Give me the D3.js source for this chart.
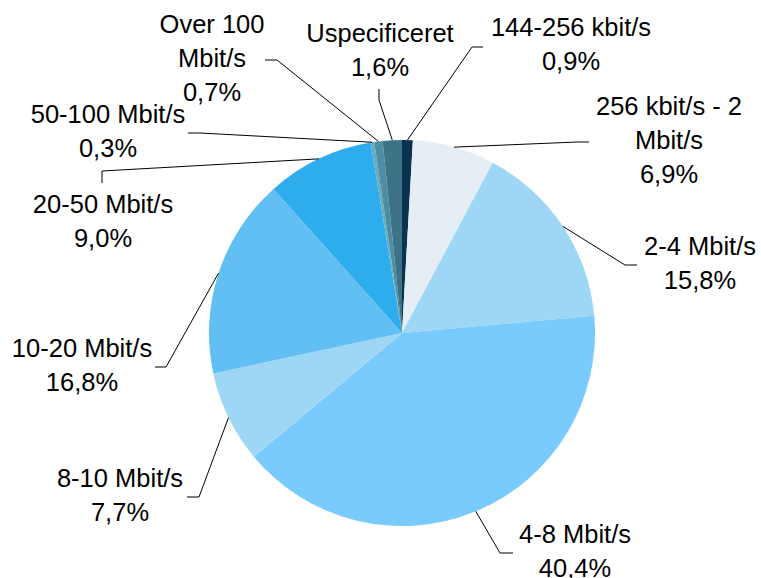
<html>
<head>
  <style>
    body { margin: 0; background: #fff; }
    .lbl { font-family: 'Liberation Sans', Arial, sans-serif; font-size: 25.5px; fill: #000; }
    .leader { fill: none; stroke: #000; stroke-width: 1; }
  </style>
</head>
<body>
  <div id="chart"></div>
  <script src="https://d3js.org/d3.v7.min.js"></script>
  <script>

  // data, clockwise from 12 o'clock
  const categories = ["144-256 kbit/s", "256 kbit/s - 2 Mbit/s", "2-4 Mbit/s", "4-8 Mbit/s", "8-10 Mbit/s",
    "10-20 Mbit/s", "20-50 Mbit/s", "50-100 Mbit/s", "Over 100 Mbit/s", "Uspecificeret"];
  const shares = [0.9, 6.9, 15.8, 40.4, 7.7, 16.8, 9.0, 0.3, 0.7, 1.6];
  const colours = ["#0b3250", "#e4eef4", "#9dd7f5", "#7acbfd", "#9dd7f5",
    "#62bff3", "#2eaded", "#6aaabf", "#4d8ea4", "#3d7386"];

  // label layout (centre x, first baseline, words on first line, leader elbow + end)
  const labelLayout = [
    {x: 571, y: 36,  words: 0, elbow: [472, 47],  end: [483, 47]},
    {x: 669, y: 115, words: 4, elbow: [577, 142], end: [589, 142]},
    {x: 700, y: 255, words: 0, elbow: [625, 265], end: [637, 265]},
    {x: 575, y: 543, words: 0, elbow: [500, 553], end: [513, 553]},
    {x: 120, y: 487, words: 0, elbow: [199, 497], end: [187, 497]},
    {x: 82,  y: 357, words: 0, elbow: [166, 367], end: [155, 367]},
    {x: 103, y: 213, words: 0, elbow: [102, 171], end: [102, 183]},
    {x: 108, y: 123, words: 0, elbow: [200, 133], end: [188, 133]},
    {x: 212, y: 33,  words: 2, elbow: [277, 60],  end: [265, 60]},
    {x: 380, y: 42,  words: 0, elbow: [379, 100], end: [379, 89]}
  ];

  const width = 761, height = 578;
  const cx = 402, cy = 333, radius = 193;
  const lineH = 34;

  const svg = d3.select("#chart")
    .append("svg")
      .attr("width", width)
      .attr("height", height);

  const pie = d3.pie().sort(null).value(d => d);
  const arcs = pie(shares);

  const arc = d3.arc().innerRadius(0).outerRadius(radius);

  const g = svg.append("g").attr("transform", `translate(${cx},${cy})`);

  g.selectAll("path")
    .data(arcs)
    .join("path")
      .attr("d", arc)
      .attr("fill", (d, i) => colours[i]);

  //leader lines from slice edge to label
  svg.selectAll(".leader")
    .data(arcs)
    .join("polyline")
      .attr("class", "leader")
      .attr("points", (d, i) => {
        const a = (d.startAngle + d.endAngle) / 2;
        const sx = cx + Math.sin(a) * radius, sy = cy - Math.cos(a) * radius;
        const L = labelLayout[i];
        return [[sx, sy], L.elbow, L.end].map(p => p.join(",")).join(" ");
      });

  const fmt = v => v.toFixed(1).replace(".", ",") + "%";

  const text = svg.selectAll(".lbl")
    .data(arcs)
    .join("text")
      .attr("class", "lbl")
      .attr("text-anchor", "middle");

  text.each(function(d, i) {
    const L = labelLayout[i];
    const words = categories[i].split(" ");
    let lines = L.words ? [words.slice(0, L.words).join(" "), words.slice(L.words).join(" ")] : [categories[i]];
    lines.push(fmt(shares[i]));
    d3.select(this).selectAll("tspan")
      .data(lines)
      .join("tspan")
        .attr("x", L.x)
        .attr("y", (t, k) => L.y + k * lineH)
        .text(t => t);
  });
  </script>
</body>
</html>
